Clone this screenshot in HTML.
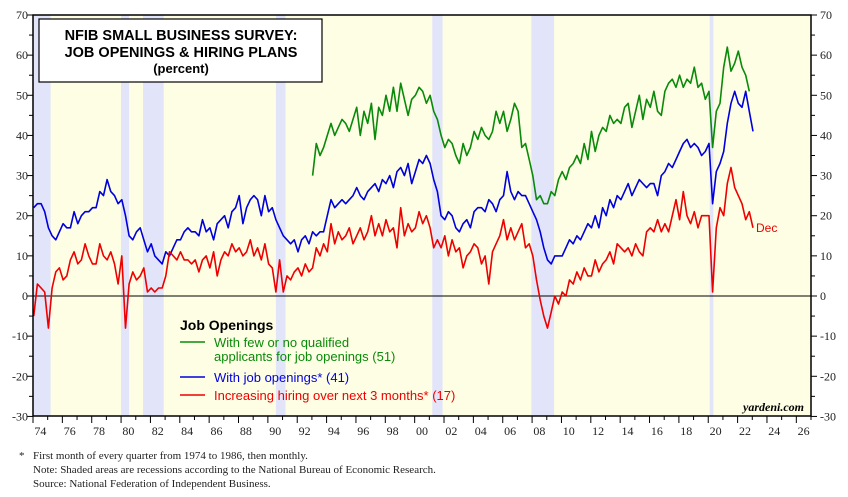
<!DOCTYPE html>
<html><head><meta charset="utf-8"><style>
body{margin:0;background:#fff;}
svg{display:block;font-family:"Liberation Sans",sans-serif;}
</style></head><body>
<svg id="c" width="848" height="497"></svg>
<script>
const startYear=1974;
const blueQ=[22,23,23,21,17,15,14,16,18,17,17,21,18,20,21,21,22,22,26,25,29,26,25,23,24,20,15,14,16,17,14,11,13,10,9,8,11,10,12,14,14,16,17,16,16,15,19,16,17,14,18,19,20,17,21,22,25,18,22,24,25,24,20,25,21,22,19,17,15,14,13,14,11,14,15,13,16,15,16,16,20,24,22,23,24,23,24,25,27,25,24,26,27,28,26,29,28,30,27,31,32,30,33,28,31,34,33,35,33,29,26,20,19,21,20,17,16,18,19,17,21,22,22,21,24,23,21,24,25,31,26,24,26,25,25,23,21,19,16,12,9,8,10,10,10,12,14,13,15,14,16,18,17,20,17,22,20,24,22,25,24,26,28,25,27,29,28,27,28,28,25,30,31,33,32,34,36,38,39,37,38,37,35,36,38,23,31,33,36,43,48,51,48,47,51,46,41];
const redQ=[-5,3,2,1,-8,2,6,7,4,5,9,11,8,9,13,10,8,8,13,10,9,11,8,3,10,-8,3,6,4,5,7,1,2,1,2,2,5,11,10,9,11,9,9,8,9,6,9,10,7,11,5,9,11,10,13,11,12,10,11,14,10,12,9,13,8,7,1,9,1,5,4,6,7,5,8,6,7,12,10,13,11,18,13,16,14,15,17,13,15,17,14,16,20,15,18,15,19,16,17,12,22,15,18,16,17,21,18,20,17,12,14,12,15,10,14,11,12,7,10,11,13,12,8,10,3,11,13,15,19,14,17,14,16,18,12,13,10,4,-1,-5,-8,-4,0,-2,1,0,4,3,6,4,7,5,5,9,6,8,9,11,8,13,12,11,12,10,13,11,10,16,17,16,19,16,18,16,20,24,19,26,20,18,21,17,20,20,20,1,17,22,20,28,32,27,25,23,19,21,17];
const greenStart=1993;
const greenQ=[30,38,35,37,40,43,40,42,44,43,41,44,47,40,46,43,48,39,47,45,50,46,52,46,53,49,45,49,50,52,51,48,50,46,44,40,37,39,38,35,33,38,35,37,41,39,42,40,39,41,46,43,46,41,44,48,46,37,38,34,30,24,25,23,23,26,25,29,31,29,32,33,35,33,38,34,41,36,40,42,41,45,43,44,43,47,48,42,46,50,44,49,47,51,46,45,51,53,54,52,55,52,54,53,57,52,53,49,51,37,46,48,57,62,56,58,61,57,55,51];
const recessions=[[1973.9,1975.2],[1980.0,1980.55],[1981.5,1982.9],[1990.55,1991.2],[2001.2,2001.9],[2007.95,2009.5],[2020.1,2020.35]];
const yTicks=[-30,-20,-10,0,10,20,30,40,50,60,70];
const xLabels=["74","76","78","80","82","84","86","88","90","92","94","96","98","00","02","04","06","08","10","12","14","16","18","20","22","24","26"];

const NS="http://www.w3.org/2000/svg";
const svg=document.getElementById('c');
const L=33,R=811,T=15,B=416;
const x=y=>L+(y-1974)*(R-L)/53;
const yv=v=>296-v*(296-T)/70;
function mk(tag,attrs,parent){const e=document.createElementNS(NS,tag);for(const k in attrs)e.setAttribute(k,attrs[k]);(parent||svg).appendChild(e);return e;}

let bg=mk('rect',{x:L,y:T,width:R-L,height:B-T,fill:'#fefee4'});


recessions.forEach(r=>{
  const a=Math.max(x(r[0]),L);
  const e=mk('rect',{x:a,y:T,width:x(r[1])-a,height:B-T,fill:'#e2e4fa'});
  
  
});
let zl=mk('line',{x1:L,x2:R,y1:yv(0),y2:yv(0),stroke:'#000','stroke-width':1});



function series(arr,start,color,name){
  const pts=arr.map((v,i)=>x(start+i/4+0.05).toFixed(1)+','+yv(v).toFixed(1)).join(' ');
  const p=mk('polyline',{points:pts,fill:'none',stroke:color,'stroke-width':1.6,'stroke-linejoin':'round'});
  
  
}
series(greenQ,greenStart,'#0a8a0a','few-qualified-line');
series(blueQ,startYear,'#0000dd','job-openings-line');
series(redQ,startYear,'#ee0000','hiring-plans-line');

let fr=mk('rect',{x:L,y:T,width:R-L,height:B-T,fill:'none',stroke:'#000','stroke-width':1.5});



for(let v=-30;v<=70;v+=5){
  const major=v%10===0;
  mk('line',{x1:L-(major?6:4),x2:L,y1:yv(v),y2:yv(v),stroke:'#000'});
  mk('line',{x1:R,x2:R+(major?6:4),y1:yv(v),y2:yv(v),stroke:'#000'});
}
yTicks.forEach(v=>{
  const a=mk('text',{x:L-5,y:yv(v)+4,'text-anchor':'end','font-family':'Liberation Serif,serif','font-size':12,fill:'#222'});
  a.textContent=v;
  
  
  const b=mk('text',{x:R+9,y:yv(v)+4,'font-family':'Liberation Serif,serif','font-size':12,fill:'#222'});
  b.textContent=v;
  
  
});
for(let yr=1974;yr<=2027;yr++){
  mk('line',{x1:x(yr),x2:x(yr),y1:B,y2:B+(yr%2===0?7:4),stroke:'#000'});
}
xLabels.forEach((s,i)=>{
  const t=mk('text',{x:x(1974+2*i+0.5),y:B+19,'text-anchor':'middle','font-family':'Liberation Serif,serif','font-size':12,fill:'#222'});
  t.textContent=s;
  
  
});
</script>
<svg width="848" height="497" style="position:absolute;left:0;top:0">
  <g>
    <rect x="39" y="19" width="283" height="63" fill="#fff" stroke="#000" stroke-width="1.2"/>
    <text x="181" y="40" text-anchor="middle" font-size="14.5" font-weight="bold" font-family="Liberation Sans,sans-serif">NFIB SMALL BUSINESS SURVEY:</text>
    <text x="181" y="57" text-anchor="middle" font-size="14.5" font-weight="bold" font-family="Liberation Sans,sans-serif">JOB OPENINGS &amp; HIRING PLANS</text>
    <text x="181" y="73" text-anchor="middle" font-size="13" font-weight="bold" font-family="Liberation Sans,sans-serif">(percent)</text>
  </g>
  <g font-family="Liberation Sans,sans-serif" font-size="13">
    <text x="180" y="330" font-weight="bold" font-size="14">Job Openings</text>
    <line x1="180" x2="205" y1="342" y2="342" stroke="#0a8a0a" stroke-width="1.6"/>
    <text x="214" y="347" fill="#0a8a0a">With few or no qualified</text>
    <text x="214" y="361" fill="#0a8a0a">applicants for job openings (51)</text>
    <line x1="180" x2="205" y1="377" y2="377" stroke="#0000dd" stroke-width="1.6"/>
    <text x="214" y="382" fill="#0000dd">With job openings* (41)</text>
    <line x1="180" x2="205" y1="395" y2="395" stroke="#ee0000" stroke-width="1.6"/>
    <text x="214" y="400" fill="#ee0000">Increasing hiring over next 3 months* (17)</text>
  </g>
  <text x="756" y="232" fill="#ee0000" font-size="12" font-family="Liberation Sans,sans-serif">Dec</text>
  <text x="804" y="411" text-anchor="end" font-size="12" font-style="italic" font-weight="bold" font-family="Liberation Serif,serif">yardeni.com</text>
  <g font-family="Liberation Serif,serif" font-size="11" fill="#222">
    <text x="19" y="459">*</text>
    <text x="33" y="459">First month of every quarter from 1974 to 1986, then monthly.</text>
    <text x="33" y="473">Note: Shaded areas are recessions according to the National Bureau of Economic Research.</text>
    <text x="33" y="487">Source: National Federation of Independent Business.</text>
  </g>
</svg>
</body></html>
